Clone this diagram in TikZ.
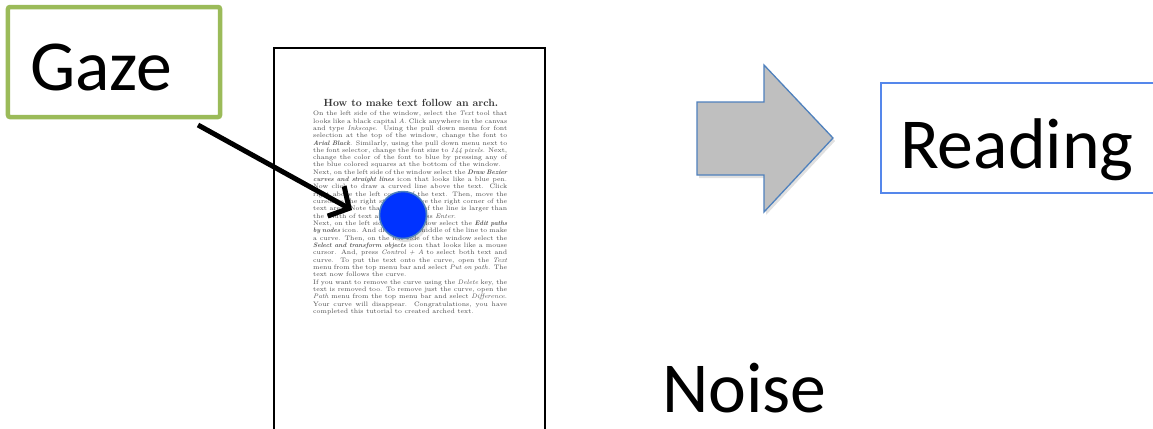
\documentclass[tikz,border=0pt]{standalone}
\usepackage{fontspec}
\newfontfamily\calibri{Carlito}
\usetikzlibrary{arrows.meta}
\definecolor{gazegreen}{RGB}{155,187,89}
\definecolor{shapeblue}{RGB}{79,129,189}
\definecolor{readblue}{RGB}{85,135,235}
\definecolor{dotblue}{RGB}{0,51,255}
\definecolor{arrowgray}{RGB}{191,191,191}
\definecolor{doctext}{RGB}{75,75,75}
\begin{document}
\begin{tikzpicture}[x=1bp,y=-1bp,
  lbl/.style={font=\calibri\fontsize{72}{80}\selectfont, inner sep=0, anchor=base west, text=black, text depth=0pt},
  gazebox/.style={draw=gazegreen, line width=4.5bp, rounded corners=2bp, minimum width=212bp, minimum height=110bp, inner sep=0},
  readbox/.style={draw=readblue, line width=1.6bp, minimum width=300bp, minimum height=110bp, inner sep=0},
  docframe/.style={draw=black, line width=1.6bp, minimum width=271bp, minimum height=400bp, inner sep=0},
  gazearrow/.style={line width=5bp, -{Straight Barb[length=15bp,width=34bp]}},
  dotstyle/.style={circle, fill=dotblue, draw=shapeblue, line width=1.5bp, minimum size=47bp, inner sep=0},
  blockarrow/.style={fill=arrowgray, draw=shapeblue, line width=1.3bp, line join=miter},
  shadowstyle/.style={fill=black, opacity=0.12, draw=none}
]
\useasboundingbox (0,0) rectangle (1153,428);
\clip (0,0) rectangle (1153,428);
\fill[white] (0,0) rectangle (1153,428);

% document page
\node[docframe] (doc) at (409.5,248) {};
\node[font=\bfseries\fontsize{10.4}{11}\selectfont, text=doctext!70!black, anchor=base, inner sep=0] (title) at (411,106) {How to make text follow an arch.};
\node[anchor=north west, inner sep=0, text=doctext] (body) at (313,111) {\parbox{194bp}{\fontsize{6.45}{7.35}\selectfont\setlength\parindent{0pt}\tolerance=10000\emergencystretch=2em
On the left side of the window, select the \textit{Text} tool that looks like a black capital \textit{A}. Click anywhere in the canvas and type \textit{Inkscape}. Using the pull down menu for font selection at the top of the window, change the font to \textbf{\textit{Arial Black}}. Similarly, using the pull down menu next to the font selector, change the font size to \textit{144 pixels}. Next, change the color of the font to blue by pressing any of the blue colored squares at the bottom of the window.\par
Next, on the left side of the window select the \textbf{\textit{Draw Bezier curves and straight lines}} icon that looks like a blue pen. Now click to draw a curved line above the text. Click right above the left corner of the text. Then, move the cursor to the right straight above the right corner of the text area. Note that the length of the line is larger than the width of text area. Then press \textit{Enter}.\par
Next, on the left side of the window select the \textbf{\textit{Edit paths by nodes}} icon. And drag up the middle of the line to make a curve. Then, on the left side of the window select the \textbf{\textit{Select and transform objects}} icon that looks like a mouse cursor. And, press \textit{Control + A} to select both text and curve. To put the text onto the curve, open the \textit{Text} menu from the top menu bar and select \textit{Put on path}. The text now follows the curve.\par
If you want to remove the curve using the \textit{Delete} key, the text is removed too. To remove just the curve, open the \textit{Path} menu from the top menu bar and select \textit{Difference}. Your curve will disappear. Congratulations, you have completed this tutorial to created arched text.}};

% gaze point
\fill[shadowstyle] (405,218) circle (24);
\node[dotstyle] (dot) at (403,215) {};

% gaze label
\node[gazebox] (gaze) at (114,62) {};
\node[lbl] (gazetext) at (30,90) {Gaze};

% gaze arrow
\coordinate (astart) at (198,125);
\coordinate (atip) at (352,210);
\draw[gazearrow] (astart) -- (atip);

% block arrow
\fill[shadowstyle] (699,105) -- (766,105) -- (766,68) -- (835,141) -- (766,215) -- (766,178) -- (699,178) -- cycle;
\draw[blockarrow] (697,102) -- (764,102) -- (764,65) -- (833,138) -- (764,212) -- (764,175) -- (697,175) -- cycle;

% reading box
\node[readbox] (read) at (1031,138) {};
\node[lbl] (readtext) at (900,168) {Reading};

% noise
\node[lbl] (noise) at (662,412) {Noise};
\end{tikzpicture}
\end{document}
